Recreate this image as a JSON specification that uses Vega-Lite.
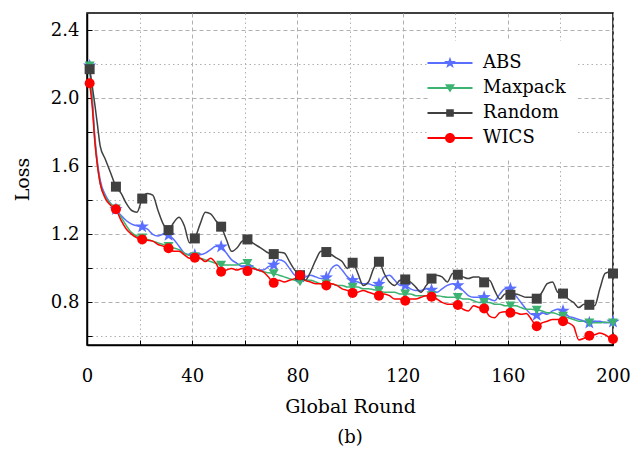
{
  "$schema": "https://vega.github.io/schema/vega-lite/v6.json",
  "width": 526,
  "height": 332,
  "autosize": "none",
  "padding": {"left": 87, "top": 13, "right": 27, "bottom": 105},
  "background": "white",
  "config": {
    "view": {"stroke": "black", "strokeWidth": 1.5},
    "font": "DejaVu Serif",
    "legend": {"labelFont": "DejaVu Serif", "labelFontSize": 18, "labelColor": "black"}
  },
  "title": {"text": "(b)", "orient": "bottom", "font": "DejaVu Serif", "fontSize": 18, "fontWeight": "normal", "color": "black", "offset": 13},
  "data": {
    "values": [
      {"r":1,"ABS":2.19,"Maxpack":2.19,"Random":2.17,"WICS":2.087},
      {"r":2,"ABS":2.00,"Maxpack":1.98,"Random":2.07,"WICS":1.95},
      {"r":3,"ABS":1.77,"Maxpack":1.75,"Random":1.96,"WICS":1.74},
      {"r":4,"ABS":1.62,"Maxpack":1.60,"Random":1.84,"WICS":1.60},
      {"r":5,"ABS":1.52,"Maxpack":1.50,"Random":1.72,"WICS":1.50},
      {"r":7,"ABS":1.43,"Maxpack":1.42,"Random":1.64,"WICS":1.41},
      {"r":9,"ABS":1.38,"Maxpack":1.38,"Random":1.56,"WICS":1.37},
      {"r":11,"ABS":1.347,"Maxpack":1.35,"Random":1.48,"WICS":1.347},
      {"r":13,"ABS":1.31,"Maxpack":1.30,"Random":1.44,"WICS":1.28},
      {"r":15,"ABS":1.28,"Maxpack":1.25,"Random":1.38,"WICS":1.23},
      {"r":17,"ABS":1.26,"Maxpack":1.21,"Random":1.34,"WICS":1.20},
      {"r":19,"ABS":1.25,"Maxpack":1.19,"Random":1.33,"WICS":1.18},
      {"r":21,"ABS":1.245,"Maxpack":1.18,"Random":1.41,"WICS":1.17},
      {"r":23,"ABS":1.23,"Maxpack":1.17,"Random":1.44,"WICS":1.165},
      {"r":25,"ABS":1.20,"Maxpack":1.16,"Random":1.43,"WICS":1.16},
      {"r":27,"ABS":1.19,"Maxpack":1.15,"Random":1.34,"WICS":1.14},
      {"r":29,"ABS":1.20,"Maxpack":1.14,"Random":1.26,"WICS":1.13},
      {"r":31,"ABS":1.195,"Maxpack":1.13,"Random":1.225,"WICS":1.118},
      {"r":33,"ABS":1.17,"Maxpack":1.12,"Random":1.27,"WICS":1.10},
      {"r":35,"ABS":1.13,"Maxpack":1.11,"Random":1.30,"WICS":1.10},
      {"r":37,"ABS":1.09,"Maxpack":1.09,"Random":1.25,"WICS":1.08},
      {"r":39,"ABS":1.08,"Maxpack":1.075,"Random":1.15,"WICS":1.06},
      {"r":41,"ABS":1.078,"Maxpack":1.07,"Random":1.176,"WICS":1.063},
      {"r":43,"ABS":1.08,"Maxpack":1.06,"Random":1.26,"WICS":1.06},
      {"r":45,"ABS":1.09,"Maxpack":1.05,"Random":1.33,"WICS":1.04},
      {"r":47,"ABS":1.11,"Maxpack":1.04,"Random":1.32,"WICS":1.06},
      {"r":49,"ABS":1.13,"Maxpack":1.03,"Random":1.28,"WICS":1.03},
      {"r":51,"ABS":1.127,"Maxpack":1.02,"Random":1.245,"WICS":0.98},
      {"r":53,"ABS":1.09,"Maxpack":1.02,"Random":1.17,"WICS":0.99},
      {"r":55,"ABS":1.05,"Maxpack":1.02,"Random":1.10,"WICS":1.00},
      {"r":57,"ABS":1.03,"Maxpack":1.02,"Random":1.12,"WICS":0.99},
      {"r":59,"ABS":1.01,"Maxpack":1.03,"Random":1.16,"WICS":1.00},
      {"r":61,"ABS":1.006,"Maxpack":1.03,"Random":1.17,"WICS":0.984},
      {"r":63,"ABS":1.00,"Maxpack":1.01,"Random":1.15,"WICS":1.00},
      {"r":65,"ABS":0.99,"Maxpack":0.99,"Random":1.13,"WICS":0.99},
      {"r":67,"ABS":0.99,"Maxpack":0.98,"Random":1.11,"WICS":0.98},
      {"r":69,"ABS":1.01,"Maxpack":0.975,"Random":1.09,"WICS":0.95},
      {"r":71,"ABS":1.02,"Maxpack":0.97,"Random":1.084,"WICS":0.915},
      {"r":73,"ABS":1.05,"Maxpack":0.96,"Random":1.095,"WICS":0.93},
      {"r":75,"ABS":1.04,"Maxpack":0.95,"Random":1.09,"WICS":0.92},
      {"r":77,"ABS":1.00,"Maxpack":0.94,"Random":1.04,"WICS":0.93},
      {"r":79,"ABS":0.96,"Maxpack":0.93,"Random":0.99,"WICS":0.94},
      {"r":81,"ABS":0.95,"Maxpack":0.92,"Random":0.96,"WICS":0.96},
      {"r":83,"ABS":0.95,"Maxpack":0.93,"Random":0.93,"WICS":0.93},
      {"r":85,"ABS":0.96,"Maxpack":0.93,"Random":0.98,"WICS":0.92},
      {"r":87,"ABS":0.95,"Maxpack":0.92,"Random":1.05,"WICS":0.91},
      {"r":89,"ABS":0.94,"Maxpack":0.91,"Random":1.10,"WICS":0.91},
      {"r":91,"ABS":0.946,"Maxpack":0.91,"Random":1.096,"WICS":0.90},
      {"r":93,"ABS":1.00,"Maxpack":0.91,"Random":1.08,"WICS":0.91},
      {"r":95,"ABS":1.02,"Maxpack":0.90,"Random":1.06,"WICS":0.90},
      {"r":97,"ABS":0.99,"Maxpack":0.90,"Random":1.04,"WICS":0.88},
      {"r":99,"ABS":0.95,"Maxpack":0.89,"Random":1.00,"WICS":0.87},
      {"r":101,"ABS":0.93,"Maxpack":0.89,"Random":1.033,"WICS":0.856},
      {"r":103,"ABS":0.92,"Maxpack":0.89,"Random":0.97,"WICS":0.86},
      {"r":105,"ABS":0.91,"Maxpack":0.88,"Random":0.90,"WICS":0.87},
      {"r":107,"ABS":0.91,"Maxpack":0.88,"Random":0.92,"WICS":0.86},
      {"r":109,"ABS":0.90,"Maxpack":0.875,"Random":1.00,"WICS":0.85},
      {"r":111,"ABS":0.908,"Maxpack":0.87,"Random":1.039,"WICS":0.84},
      {"r":113,"ABS":0.95,"Maxpack":0.86,"Random":0.97,"WICS":0.85},
      {"r":115,"ABS":0.96,"Maxpack":0.86,"Random":0.92,"WICS":0.84},
      {"r":117,"ABS":0.93,"Maxpack":0.86,"Random":0.90,"WICS":0.82},
      {"r":119,"ABS":0.90,"Maxpack":0.85,"Random":0.93,"WICS":0.82},
      {"r":121,"ABS":0.90,"Maxpack":0.85,"Random":0.935,"WICS":0.81},
      {"r":123,"ABS":0.88,"Maxpack":0.85,"Random":0.92,"WICS":0.82},
      {"r":125,"ABS":0.87,"Maxpack":0.84,"Random":0.89,"WICS":0.82},
      {"r":127,"ABS":0.87,"Maxpack":0.84,"Random":0.86,"WICS":0.83},
      {"r":129,"ABS":0.88,"Maxpack":0.84,"Random":0.90,"WICS":0.84},
      {"r":131,"ABS":0.873,"Maxpack":0.84,"Random":0.94,"WICS":0.833},
      {"r":133,"ABS":0.86,"Maxpack":0.84,"Random":0.96,"WICS":0.82},
      {"r":135,"ABS":0.88,"Maxpack":0.835,"Random":0.95,"WICS":0.80},
      {"r":137,"ABS":0.90,"Maxpack":0.83,"Random":0.92,"WICS":0.79},
      {"r":139,"ABS":0.91,"Maxpack":0.83,"Random":0.97,"WICS":0.79},
      {"r":141,"ABS":0.90,"Maxpack":0.83,"Random":0.963,"WICS":0.785},
      {"r":143,"ABS":0.87,"Maxpack":0.82,"Random":0.95,"WICS":0.76},
      {"r":145,"ABS":0.84,"Maxpack":0.82,"Random":0.94,"WICS":0.75},
      {"r":147,"ABS":0.83,"Maxpack":0.81,"Random":0.95,"WICS":0.78},
      {"r":149,"ABS":0.83,"Maxpack":0.80,"Random":0.95,"WICS":0.77},
      {"r":151,"ABS":0.83,"Maxpack":0.80,"Random":0.918,"WICS":0.765},
      {"r":153,"ABS":0.82,"Maxpack":0.80,"Random":0.93,"WICS":0.72},
      {"r":155,"ABS":0.81,"Maxpack":0.79,"Random":0.87,"WICS":0.71},
      {"r":157,"ABS":0.85,"Maxpack":0.79,"Random":0.82,"WICS":0.74},
      {"r":159,"ABS":0.88,"Maxpack":0.78,"Random":0.85,"WICS":0.745},
      {"r":161,"ABS":0.88,"Maxpack":0.78,"Random":0.845,"WICS":0.74},
      {"r":163,"ABS":0.84,"Maxpack":0.78,"Random":0.85,"WICS":0.74},
      {"r":165,"ABS":0.80,"Maxpack":0.77,"Random":0.84,"WICS":0.73},
      {"r":167,"ABS":0.76,"Maxpack":0.76,"Random":0.83,"WICS":0.735},
      {"r":169,"ABS":0.73,"Maxpack":0.76,"Random":0.83,"WICS":0.70},
      {"r":171,"ABS":0.725,"Maxpack":0.755,"Random":0.822,"WICS":0.66},
      {"r":173,"ABS":0.74,"Maxpack":0.75,"Random":0.86,"WICS":0.68},
      {"r":175,"ABS":0.73,"Maxpack":0.74,"Random":0.91,"WICS":0.69},
      {"r":177,"ABS":0.75,"Maxpack":0.74,"Random":0.92,"WICS":0.70},
      {"r":179,"ABS":0.76,"Maxpack":0.73,"Random":0.86,"WICS":0.70},
      {"r":181,"ABS":0.75,"Maxpack":0.72,"Random":0.852,"WICS":0.69},
      {"r":183,"ABS":0.72,"Maxpack":0.71,"Random":0.82,"WICS":0.68},
      {"r":185,"ABS":0.71,"Maxpack":0.70,"Random":0.80,"WICS":0.66},
      {"r":187,"ABS":0.70,"Maxpack":0.69,"Random":0.77,"WICS":0.58},
      {"r":189,"ABS":0.69,"Maxpack":0.69,"Random":0.79,"WICS":0.59},
      {"r":191,"ABS":0.68,"Maxpack":0.68,"Random":0.786,"WICS":0.605},
      {"r":193,"ABS":0.69,"Maxpack":0.68,"Random":0.78,"WICS":0.61},
      {"r":195,"ABS":0.69,"Maxpack":0.68,"Random":0.88,"WICS":0.62},
      {"r":197,"ABS":0.68,"Maxpack":0.685,"Random":0.97,"WICS":0.61},
      {"r":199,"ABS":0.685,"Maxpack":0.68,"Random":0.98,"WICS":0.59},
      {"r":200,"ABS":0.686,"Maxpack":0.68,"Random":0.97,"WICS":0.585}
    ]
  },
  "transform": [{"fold": ["ABS", "Maxpack", "Random", "WICS"], "as": ["s", "v"]}],
  "encoding": {
    "x": {
      "field": "r", "type": "quantitative",
      "scale": {"domain": [0, 200], "nice": false, "zero": false},
      "axis": {
        "title": "Global Round", "titleFont": "DejaVu Serif", "titleFontSize": 19, "titleFontWeight": "normal", "titleColor": "black", "titlePadding": 12,
        "values": [0, 20, 40, 60, 80, 100, 120, 140, 160, 180, 200],
        "labelExpr": "datum.value % 40 == 0 ? datum.label : ''",
        "labelFont": "DejaVu Serif", "labelFontSize": 18, "labelColor": "black", "labelPadding": 27, "labelFlush": false,
        "tickSize": -5, "tickColor": "black", "tickWidth": 1,
        "domainColor": "black", "domainWidth": 1.5,
        "grid": true, "gridColor": "#b0b0b0", "gridWidth": 1,
        "gridDash": {"condition": {"test": "datum.value % 40 == 0", "value": [4, 3]}, "value": [1.5, 3]}
      }
    },
    "y": {
      "field": "v", "type": "quantitative",
      "scale": {"domain": [0.55, 2.5], "nice": false, "zero": false},
      "axis": {
        "title": "Loss", "titleFont": "DejaVu Serif", "titleFontSize": 19, "titleFontWeight": "normal", "titleColor": "black", "titlePadding": 18,
        "values": [0.6, 0.8, 1.0, 1.2, 1.4, 1.6, 1.8, 2.0, 2.2, 2.4],
        "labelExpr": "round(datum.value * 10) % 4 == 0 ? format(datum.value, '.1f') : ''",
        "labelFont": "DejaVu Serif", "labelFontSize": 18, "labelColor": "black", "labelPadding": 13,
        "tickSize": -5, "tickColor": "black", "tickWidth": 1,
        "domainColor": "black", "domainWidth": 1.5,
        "grid": true, "gridColor": "#b0b0b0", "gridWidth": 1,
        "gridDash": {"condition": {"test": "round(datum.value * 10) % 4 == 0", "value": [4, 3]}, "value": [1.5, 3]}
      }
    }
  },
  "layer": [
    {
      "mark": {"type": "line", "strokeWidth": 1.5, "interpolate": "monotone"},
      "encoding": {
        "color": {"field": "s", "type": "nominal", "legend": null,
          "scale": {"domain": ["ABS", "Maxpack", "Random", "WICS"], "range": ["#5a6eff", "#3cb371", "#404040", "#ff0000"]}}
      }
    },
    {
      "transform": [{"filter": "(datum.r - 1) % 10 == 0 || datum.r == 200"}],
      "mark": {"type": "point", "filled": true, "opacity": 1, "size": 100, "strokeWidth": 0},
      "encoding": {
        "color": {"field": "s", "type": "nominal", "legend": null,
          "scale": {"domain": ["ABS", "Maxpack", "Random", "WICS"], "range": ["#5a6eff", "#3cb371", "#404040", "#ff0000"]}},
        "shape": {"field": "s", "type": "nominal", "legend": null,
          "scale": {"domain": ["ABS", "Maxpack", "Random", "WICS"], "range": ["M0,-1.4L0.33,-0.454L1.331,-0.433L0.532,0.174L0.823,1.133L0,0.56L-0.823,1.133L-0.532,0.174L-1.331,-0.433L-0.33,-0.454Z", "triangle-down", "square", "circle"]}}
      }
    },
    {
      "transform": [{"filter": "datum.r == 1"}],
      "mark": {"type": "point", "filled": true, "opacity": 0},
      "encoding": {
        "color": {"field": "s", "type": "nominal",
          "scale": {"domain": ["ABS", "Maxpack", "Random", "WICS"], "range": ["#5a6eff", "#3cb371", "#404040", "#ff0000"]},
          "legend": {"title": null, "orient": "none", "legendX": 341, "legendY": 28, "symbolSize": 400, "symbolOpacity": 1, "symbolStrokeWidth": 0,
            "labelFont": "DejaVu Serif", "labelFontSize": 18, "labelColor": "black", "labelOffset": 23, "rowPadding": 6,
            "fillColor": "white", "padding": 12}},
        "shape": {"field": "s", "type": "nominal",
          "scale": {"domain": ["ABS", "Maxpack", "Random", "WICS"], "range": [
            "M-2.25,-0.1L2.25,-0.1L2.25,0.1L-2.25,0.1ZM0,-0.63L0.148,-0.204L0.599,-0.195L0.239,0.078L0.37,0.51L0,0.252L-0.37,0.51L-0.239,0.078L-0.599,-0.195L-0.148,-0.204Z",
            "M-2.25,-0.1L2.25,-0.1L2.25,0.1L-2.25,0.1ZM-0.5,-0.38L0.5,-0.38L0,0.45Z",
            "M-2.25,-0.1L2.25,-0.1L2.25,0.1L-2.25,0.1ZM-0.38,-0.38L0.38,-0.38L0.38,0.38L-0.38,0.38Z",
            "M-2.25,-0.1L2.25,-0.1L2.25,0.1L-2.25,0.1ZM-0.5,0A0.5,0.5 0 1,1 0.5,0A0.5,0.5 0 1,1 -0.5,0Z"
          ]},
          "legend": {"title": null, "orient": "none", "legendX": 341, "legendY": 28, "symbolSize": 400, "symbolOpacity": 1, "symbolStrokeWidth": 0,
            "labelFont": "DejaVu Serif", "labelFontSize": 18, "labelColor": "black", "labelOffset": 23, "rowPadding": 6,
            "fillColor": "white", "padding": 12}}
      }
    }
  ],
  "resolve": {"scale": {"color": "independent", "shape": "independent"}}
}
